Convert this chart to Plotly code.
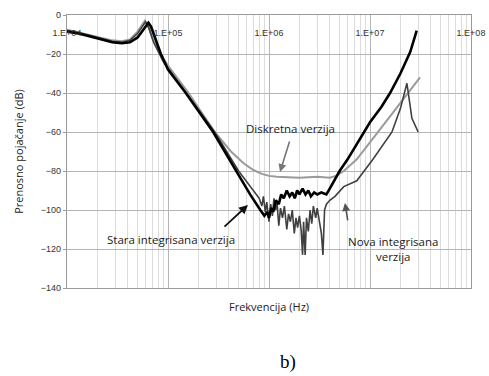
import plotly.graph_objects as go

# ---------------- data ----------------
stara_f = [1.0e4, 1.3e4, 1.7e4, 2.2e4, 2.8e4, 3.5e4, 4.2e4, 5.0e4, 5.8e4, 6.4e4, 6.8e4, 7.5e4,
           8.5e4, 1.0e5, 1.5e5, 2.8e5, 4.7e5, 6.5e5, 8.2e5, 9.0e5, 9.6e5, 1.0e6, 1.05e6, 1.1e6,
           1.17e6, 1.25e6, 1.32e6, 1.4e6, 1.5e6, 1.6e6, 1.7e6, 1.8e6, 1.9e6, 2.0e6, 2.15e6,
           2.3e6, 2.45e6, 2.6e6, 2.8e6, 3.0e6, 3.3e6, 3.7e6, 4.1e6, 5.0e6, 6.0e6, 7.9e6, 1.0e7,
           1.3e7, 1.58e7, 2.0e7, 2.5e7, 2.9e7]
stara_db = [-8.5, -9.5, -11, -12.5, -14, -14.5, -14, -11.5, -7, -4, -6, -12,
            -20, -28, -40, -60, -80, -92, -100, -103, -101, -104, -99, -101,
            -95, -97, -92, -94, -90, -93, -91, -94, -90, -92, -89,
            -92, -90, -93, -91, -92, -91, -92, -88, -80, -74, -64, -55,
            -47, -40, -30, -19, -8]

disk_f = [1.0e4, 1.3e4, 1.7e4, 2.2e4, 2.8e4, 3.5e4, 4.2e4, 5.0e4, 5.6e4, 5.9e4, 6.3e4, 7.0e4,
          8.0e4, 1.0e5, 1.6e5, 2.9e5, 4.2e5, 5.6e5, 7.0e5, 8.5e5, 1.0e6, 1.2e6, 2.0e6, 3.0e6,
          4.0e6, 4.6e6, 5.5e6, 7.4e6, 1.58e7, 3.13e7]
disk_db = [-7.5, -9, -10.5, -12, -13, -13.5, -12.5, -8.5, -4.5, -3, -5, -12,
           -18, -26, -40, -60, -70, -76, -79.5, -81.5, -82.5, -83, -83.5, -83,
           -83.5, -82.5, -80, -74, -52, -32]

nova_f = [1.0e4, 1.3e4, 1.7e4, 2.2e4, 2.8e4, 3.5e4, 4.2e4, 5.0e4, 5.6e4, 6.0e4, 6.5e4, 7.2e4,
          9.0e4, 1.6e5, 2.9e5, 5.0e5, 6.5e5, 8.0e5, 8.5e5, 8.8e5, 9.2e5, 9.5e5, 1.0e6, 1.04e6,
          1.08e6, 1.12e6, 1.16e6, 1.2e6, 1.25e6, 1.3e6, 1.36e6, 1.42e6, 1.5e6, 1.56e6, 1.63e6,
          1.7e6, 1.78e6, 1.85e6, 1.92e6, 2.0e6, 2.08e6, 2.15e6, 2.2e6, 2.28e6, 2.35e6, 2.45e6,
          2.55e6, 2.65e6, 2.75e6, 2.9e6, 3.0e6, 3.15e6, 3.3e6, 3.42e6, 3.55e6, 3.7e6, 4.0e6,
          4.5e6, 5.5e6, 7.4e6, 1.07e7, 1.65e7, 2.0e7, 2.32e7, 2.45e7, 2.6e7, 3.0e7]
nova_db = [-8, -9, -10.5, -12, -13.5, -14, -13, -9.5, -5.5, -3.5, -7, -14,
           -24, -42, -60, -80, -88, -94, -98, -93, -101, -96, -106, -97,
           -103, -94, -100, -96, -108, -99, -104, -98, -110, -102, -106,
           -100, -112, -104, -109, -103, -110, -123, -106, -123, -104, -111,
           -100, -107, -98, -104, -99, -105, -112, -123, -100, -97, -95,
           -93, -88, -85, -74, -60, -48, -35, -45, -53, -60]

x_tick_vals = [1e4, 1e5, 1e6, 1e7, 1e8]
x_tick_text = ["1.E+04", "1.E+05", "1.E+06", "1.E+07", "1.E+08"]
y_tick_vals = [0, -20, -40, -60, -80, -100, -120, -140]

minor_vals = [m * 10 ** e for e in range(4, 8) for m in range(2, 10)]

fig = go.Figure()
fig.add_trace(go.Scatter(x=disk_f, y=disk_db, mode="lines",
                         line=dict(color="#9a9a9a", width=2), name="Diskretna"))
fig.add_trace(go.Scatter(x=nova_f, y=nova_db, mode="lines",
                         line=dict(color="#404040", width=1.6), name="Nova"))
fig.add_trace(go.Scatter(x=stara_f, y=stara_db, mode="lines",
                         line=dict(color="#000000", width=2.6), name="Stara"))
# invisible trace carrying the tick-label axis (x2)
fig.add_trace(go.Scatter(x=x_tick_vals, y=[None] * len(x_tick_vals), xaxis="x2", yaxis="y",
                         mode="lines", showlegend=False, hoverinfo="skip"))

txt = dict(family="Open Sans, Noto Sans, sans-serif", size=11.5, color="#1a1a1a")
fig.add_annotation(x=6.208, y=-58, xref="x", yref="y", text="Diskretna verzija",
                   showarrow=False, font=txt)
fig.add_annotation(x=5.03, y=-114.9, xref="x", yref="y", text="Stara integrisana verzija",
                   showarrow=False, font=txt)
fig.add_annotation(x=7.228, y=-120, xref="x", yref="y",
                   text="Nova integrisana<br>verzija", showarrow=False, font=txt, align="center")
# arrows
fig.add_annotation(x=6.109, y=-80.5, ax=10, ay=-32, text="", showarrow=True,
                   arrowhead=2, arrowsize=1, arrowwidth=1.6, arrowcolor="#777")
fig.add_annotation(x=5.792, y=-97.4, ax=-25, ay=23, text="", showarrow=True,
                   arrowhead=2, arrowsize=1, arrowwidth=1.8, arrowcolor="#111")
fig.add_annotation(x=6.752, y=-96.4, ax=3, ay=19, text="", showarrow=True,
                   arrowhead=2, arrowsize=1, arrowwidth=1.6, arrowcolor="#555")

fig.add_annotation(x=0.547, y=-0.271, xref="paper", yref="paper", text="b)", yanchor="middle",
                   showarrow=False, font=dict(family="Liberation Serif, serif", size=19, color="#000"))

fig.update_layout(
    width=489, height=376,
    margin=dict(l=67, r=18, t=15, b=88, autoexpand=False),
    paper_bgcolor="white", plot_bgcolor="white",
    showlegend=False,
    font=dict(family="Liberation Sans, Arial, sans-serif", color="#333"),
    xaxis=dict(
        type="log", range=[4, 8], side="bottom",
        tickvals=x_tick_vals, showticklabels=False, ticks="",
        showgrid=True, gridcolor="#b5b5b5", gridwidth=1,
        minor=dict(tickvals=minor_vals, showgrid=True, gridcolor="#dcdcdc", gridwidth=1),
        showline=True, linecolor="#9a9a9a", linewidth=1.2, mirror=True,
        title=dict(text="Frekvencija (Hz)", standoff=15,
                   font=dict(family="Open Sans, Noto Sans, sans-serif", size=11, color="#222")),
        zeroline=False, automargin=False,
    ),
    xaxis2=dict(
        type="log", range=[4, 8], overlaying="x", anchor="free", position=0.96,
        side="bottom", tickvals=x_tick_vals, ticktext=x_tick_text, ticks="",
        showgrid=False, showline=False, zeroline=False, automargin=False,
        tickfont=dict(size=9, color="#333", family="Liberation Sans, Arial, sans-serif"),
    ),
    yaxis=dict(
        range=[-140, 0], tickvals=y_tick_vals,
        ticks="outside", ticklen=3, tickcolor="#999",
        tickfont=dict(size=9, color="#333", family="Liberation Sans, Arial, sans-serif"),
        showgrid=True, gridcolor="#b5b5b5", gridwidth=1,
        showline=True, linecolor="#9a9a9a", linewidth=1.2, mirror=True,
        zeroline=False, automargin=False,
        title=dict(text="Prenosno pojačanje (dB)", standoff=14,
                   font=dict(family="Open Sans, Noto Sans, sans-serif", size=11, color="#222")),
    ),
)
fig.write_html("out.html", config={"displayModeBar": False},
               post_script="document.body.style.margin='0px';document.body.style.overflow='hidden';")
